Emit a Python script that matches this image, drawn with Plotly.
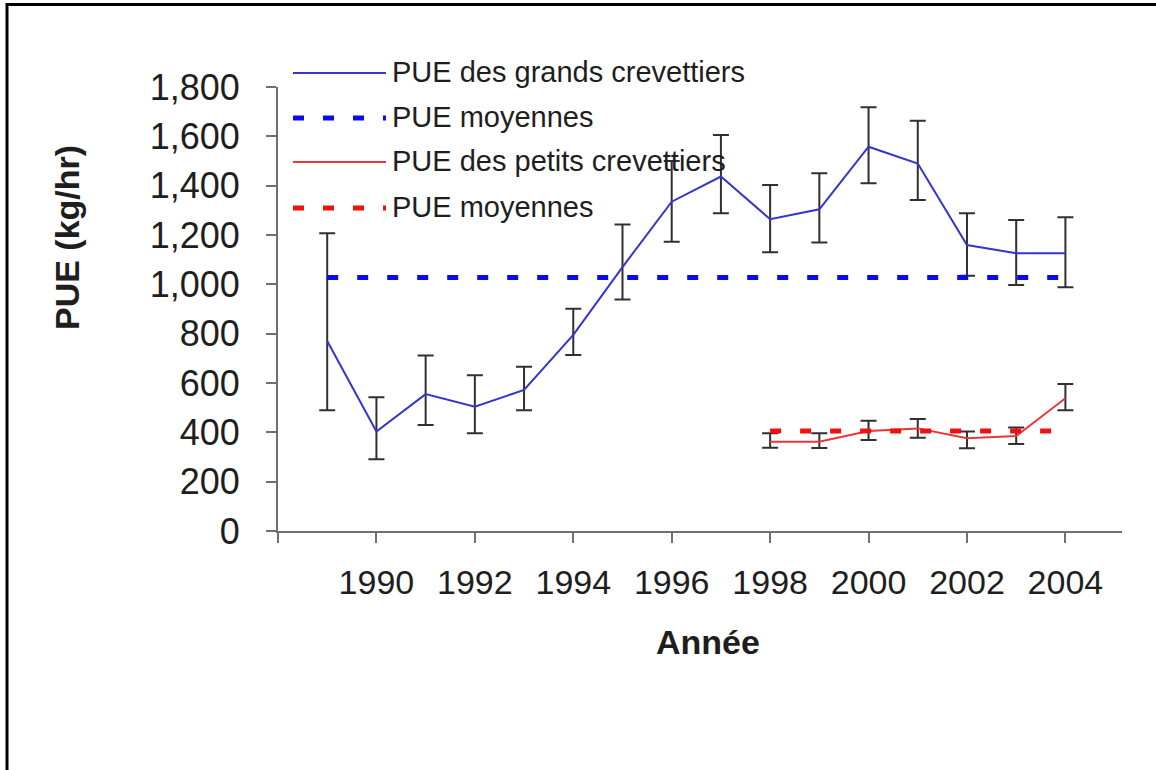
import plotly.graph_objects as go

# --- data ---
YEARS_GRANDS = [1989, 1990, 1991, 1992, 1993, 1994, 1995, 1996,
                1997, 1998, 1999, 2000, 2001, 2002, 2003, 2004]
PUE_GRANDS = [770, 403, 555, 504, 572, 795, 1070, 1335,
              1437, 1264, 1304, 1558, 1490, 1159, 1126, 1126]
HAUT_GRANDS = [1207, 542, 711, 631, 666, 901, 1243, 1500,
               1605, 1403, 1450, 1718, 1663, 1288, 1261, 1272]
BAS_GRANDS = [490, 291, 430, 396, 490, 714, 939, 1173,
              1288, 1130, 1170, 1410, 1342, 1035, 997, 988]
MOY_GRANDS = 1028

YEARS_PETITS = [1998, 1999, 2000, 2001, 2002, 2003, 2004]
PUE_PETITS = [362, 362, 405, 416, 376, 385, 538]
HAUT_PETITS = [396, 396, 447, 454, 403, 420, 596]
BAS_PETITS = [338, 336, 369, 378, 335, 353, 490]
MOY_PETITS = 405

X_TICKS = [1988, 1990, 1992, 1994, 1996, 1998, 2000, 2002, 2004]
X_LABELS = ["", "1990", "1992", "1994", "1996", "1998", "2000", "2002", "2004"]
Y_TICKS = [0, 200, 400, 600, 800, 1000, 1200, 1400, 1600, 1800]
Y_LABELS = ["0", "200", "400", "600", "800", "1,000", "1,200", "1,400", "1,600", "1,800"]

LEGEND_LABELS = ["PUE des grands crevettiers", "PUE moyennes",
                 "PUE des petits crevettiers", "PUE moyennes"]

# --- page geometry (pixels) ---
W, H = 1156, 770
L, R, T, B = 278, 1122, 87, 531

FONT = "Liberation Sans, Arial, sans-serif"
TXT = "#1e1e1e"
AXIS = "#707070"
BLUE = "#3535cc"
RED = "#ec3535"
BLUE_DASH = "#0a0af0"
RED_DASH = "#f01010"
ERR = "#303030"


def xp(px):
    return (px - L) / (R - L)


def yp(py):
    return (B - py) / (B - T)


def err(vals, hi, lo):
    plus = [h - v for h, v in zip(hi, vals)]
    minus = [v - l for v, l in zip(vals, lo)]
    return dict(type="data", symmetric=False, array=plus, arrayminus=minus,
                color=ERR, thickness=2, width=8)


fig = go.Figure()

fig.add_trace(go.Scatter(
    x=YEARS_GRANDS, y=PUE_GRANDS, mode="lines",
    line=dict(color=BLUE, width=2),
    error_y=err(PUE_GRANDS, HAUT_GRANDS, BAS_GRANDS),
    name=LEGEND_LABELS[0], showlegend=False,
))
fig.add_trace(go.Scatter(
    x=[YEARS_GRANDS[0], YEARS_GRANDS[-1]], y=[MOY_GRANDS, MOY_GRANDS], mode="lines",
    line=dict(color=BLUE_DASH, width=5, dash="11px,19px"),
    name=LEGEND_LABELS[1], showlegend=False,
))
fig.add_trace(go.Scatter(
    x=YEARS_PETITS, y=PUE_PETITS, mode="lines",
    line=dict(color=RED, width=2),
    error_y=err(PUE_PETITS, HAUT_PETITS, BAS_PETITS),
    name=LEGEND_LABELS[2], showlegend=False,
))
fig.add_trace(go.Scatter(
    x=[YEARS_PETITS[0], YEARS_PETITS[-1]], y=[MOY_PETITS, MOY_PETITS], mode="lines",
    line=dict(color=RED_DASH, width=5, dash="11px,19px"),
    name=LEGEND_LABELS[3], showlegend=False,
))

# hand-drawn legend, long samples like the original
legend_rows = [(73, BLUE, 2, "solid"), (118, BLUE_DASH, 5, "11px,19px"),
               (162, RED, 2, "solid"), (208, RED_DASH, 5, "11px,19px")]
shapes = []
annotations = []
for (py, col, wd, dash), label in zip(legend_rows, LEGEND_LABELS):
    shapes.append(dict(type="line", xref="paper", yref="paper",
                       x0=xp(293), x1=xp(386), y0=yp(py), y1=yp(py),
                       line=dict(color=col, width=wd, dash=dash)))
    annotations.append(dict(text=label, xref="paper", yref="paper",
                            x=xp(390), y=yp(py - 1), xanchor="left", yanchor="middle",
                            showarrow=False, font=dict(family=FONT, size=29, color=TXT)))

# page frame of the scan (top and left border)
shapes.append(dict(type="line", xref="paper", yref="paper",
                   x0=xp(6), x1=xp(W + 5), y0=yp(4.5), y1=yp(4.5),
                   line=dict(color="black", width=3)))
shapes.append(dict(type="line", xref="paper", yref="paper",
                   x0=xp(7), x1=xp(7), y0=yp(3), y1=yp(H + 5),
                   line=dict(color="black", width=3)))

# axis titles
annotations.append(dict(text="<b>PUE (kg/hr)</b>", xref="paper", yref="paper",
                        x=xp(67), y=yp(238), textangle=-90,
                        xanchor="center", yanchor="middle", showarrow=False,
                        font=dict(family=FONT, size=34, color=TXT)))
annotations.append(dict(text="<b>Année</b>", xref="paper", yref="paper",
                        x=xp(708), y=yp(642), xanchor="center", yanchor="middle",
                        showarrow=False, font=dict(family=FONT, size=34, color=TXT)))

fig.update_layout(
    width=W, height=H,
    margin=dict(l=L, r=W - R, t=T, b=H - B, pad=0),
    autosize=False,
    plot_bgcolor="white", paper_bgcolor="white",
    showlegend=False,
    shapes=shapes,
    annotations=annotations,
    xaxis=dict(
        range=[1988, 2005.15], tickmode="array", tickvals=X_TICKS, ticktext=X_LABELS,
        showgrid=False, zeroline=False, showline=True, linecolor=AXIS, linewidth=2,
        ticks="outside", ticklen=10, tickwidth=1.5, tickcolor=AXIS,
        ticklabelstandoff=10,
        tickfont=dict(family=FONT, size=34, color=TXT),
    ),
    yaxis=dict(
        range=[0, 1800], tickmode="array", tickvals=Y_TICKS, ticktext=Y_LABELS,
        showgrid=False, zeroline=False, showline=True, linecolor=AXIS, linewidth=2,
        ticks="outside", ticklen=10, tickwidth=1.5, tickcolor=AXIS,
        ticklabelstandoff=19,
        tickfont=dict(family=FONT, size=36, color=TXT),
    ),
)

# the page's default body margin would shift the whole figure by 8px
fig.write_html("out.html", config={"displayModeBar": False},
               post_script="document.body.style.margin='0';")
